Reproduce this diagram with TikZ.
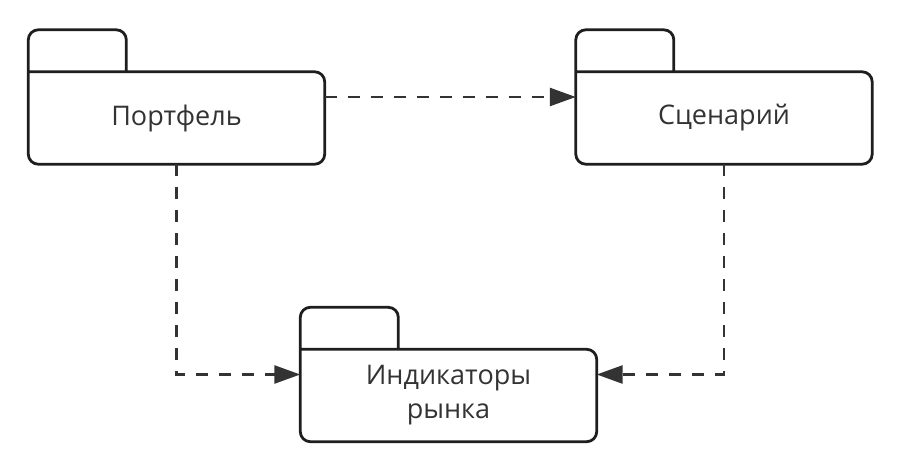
\documentclass[tikz,border=0pt]{standalone}
\usepackage{fontspec}
\setmainfont{Open Sans}
\usetikzlibrary{calc,arrows.meta}
\definecolor{pkgink}{RGB}{30,30,30}
\definecolor{pkgfont}{RGB}{51,51,51}
\tikzset{
  pkgbox/.style ={rectangle, minimum width=296pt, minimum height=134pt, inner sep=0pt},
  pkglabel/.style={text=pkgfont, font=\fontsize{27}{34}\selectfont, align=center},
  pkgedge/.style={line width=2.8pt, draw=pkgink, rounded corners=10pt, line join=round},
  pkgdep/.style ={-{Triangle[length=26pt, width=18pt]}, line width=2.6pt, pkgfont,
                  dash pattern=on 12pt off 11pt},
}
\begin{document}
\begin{tikzpicture}[x=1pt, y=-1pt]
  \useasboundingbox (0,0) rectangle (897,465);
  \node[pkgbox] (port) at (176.5,97) {};
  \node[pkgbox] (scen) at (724,97) {};
  \node[pkgbox] (ind)  at (448.5,374.5) {};
  \foreach \n/\t in {port/Портфель, scen/Сценарий, ind/{Индикаторы\\рынка}} {
    \draw[pkgedge] ($(\n.north west)+(0,42)$) -- ($(\n.north east)+(0,42)$)
      -- (\n.south east) -- (\n.south west) -- (\n.north west)
      -- ++(98,0) -- ++(0,42);
    \node[pkglabel] (\n-t) at ($(\n.center)+(0,21)$) {\t};
  }
  \draw[pkgdep] (port.east) -- (scen.west);
  \draw[pkgdep] (port.south) |- (ind.west);
  \draw[pkgdep] (scen.south) |- (ind.east);
\end{tikzpicture}
\end{document}
